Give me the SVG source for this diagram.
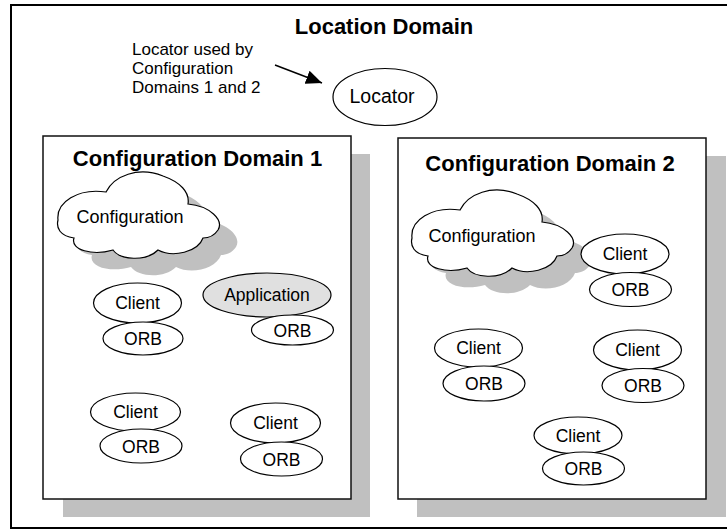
<svg xmlns="http://www.w3.org/2000/svg" width="727" height="529" viewBox="0 0 727 529">
<style>
.t{font-family:"Liberation Sans",Arial,sans-serif;font-size:17.5px;fill:#000;text-anchor:middle}
.ttl{font-family:"Liberation Sans",Arial,sans-serif;font-size:22px;font-weight:bold;fill:#000;text-anchor:middle}
.ann{font-family:"Liberation Sans",Arial,sans-serif;font-size:17px;fill:#000}
.el{fill:#fff;stroke:#000;stroke-width:1.2}
.app{fill:#e0e0e0;stroke:#000;stroke-width:1.2}
.sh{fill:#c0c0c0}
.box{fill:#fff;stroke:#111;stroke-width:1.5}
.cl{fill:#fff;stroke:#000;stroke-width:1.2}
</style>
<defs>
<path id="cloud" d="M0,48 C-2,30 20,16 48,20 C56,4 80,-6 105,4 C122,10 132,20 130,32 C152,34 166,48 160,58 C156,64 150,66 145,66 C140,80 115,86 100,78 C88,90 62,88 55,78 C35,84 12,78 16,66 C2,64 -2,56 0,48 Z"/>
<marker id="ah" markerUnits="userSpaceOnUse" markerWidth="17" markerHeight="14" refX="16" refY="7" orient="auto">
<path d="M0,0 L16,7 L0,14 Z" fill="#000"/>
</marker>
</defs>
<rect width="727" height="529" fill="#fff"/>
<g id="location-domain">
<rect x="11" y="5" width="730" height="523" fill="none" stroke="#000" stroke-width="2"/>
<text class="ttl" x="384" y="34">Location Domain</text>
<text class="ann" x="132" y="55">Locator used by</text>
<text class="ann" x="132" y="74">Configuration</text>
<text class="ann" x="132" y="93">Domains 1 and 2</text>
</g>
<g id="locator">
<ellipse class="el" cx="385" cy="97" rx="52" ry="28.5"/>
<text class="t" x="382" y="103" style="font-size:19.5px">Locator</text>
</g>
<g id="connectors">
<line x1="275" y1="65" x2="322" y2="83" stroke="#000" stroke-width="1.5" marker-end="url(#ah)"/>
</g>
<g id="config-domain-1">
<rect class="sh" x="63" y="154" width="307" height="363"/>
<rect class="box" x="43" y="136" width="308" height="363"/>
<text class="ttl" x="197.5" y="166">Configuration Domain 1</text>
</g>
<g id="config-domain-2">
<rect class="sh" x="417" y="156" width="309" height="361"/>
<rect class="box" x="398" y="138" width="308" height="361"/>
<text class="ttl" x="550" y="171">Configuration Domain 2</text>
</g>
<g id="configuration-1">
<use href="#cloud" class="sh" transform="translate(76,189)"/>
<use href="#cloud" class="cl" transform="translate(58,172)"/>
<text class="t" x="130" y="223" style="font-size:18px">Configuration</text>
</g>
<g id="configuration-2">
<use href="#cloud" class="sh" transform="translate(430,207)"/>
<use href="#cloud" class="cl" transform="translate(412,190)"/>
<text class="t" x="482" y="242" style="font-size:18px">Configuration</text>
</g>
<g id="client-1a">
<ellipse class="el" cx="137.5" cy="303" rx="44" ry="20"/>
<text class="t" x="137.5" y="309">Client</text>
<ellipse class="el" cx="143" cy="338.5" rx="40" ry="16.5"/>
<text class="t" x="143" y="345">ORB</text>
</g>
<g id="application-1">
<ellipse class="app" cx="267" cy="295" rx="64" ry="22"/>
<text class="t" x="267" y="301">Application</text>
<ellipse class="el" cx="292.5" cy="330" rx="41" ry="15"/>
<text class="t" x="292.5" y="336.5">ORB</text>
</g>
<g id="client-1b">
<ellipse class="el" cx="135.5" cy="412" rx="45" ry="19"/>
<text class="t" x="135.5" y="418">Client</text>
<ellipse class="el" cx="141" cy="446" rx="41" ry="17"/>
<text class="t" x="141" y="452.5">ORB</text>
</g>
<g id="client-1c">
<ellipse class="el" cx="275.5" cy="423" rx="45" ry="20"/>
<text class="t" x="275.5" y="429">Client</text>
<ellipse class="el" cx="281.5" cy="459" rx="41" ry="17"/>
<text class="t" x="281.5" y="465.5">ORB</text>
</g>
<g id="client-2a">
<ellipse class="el" cx="625" cy="254" rx="44" ry="20"/>
<text class="t" x="625" y="260">Client</text>
<ellipse class="el" cx="630.5" cy="289.5" rx="41" ry="17"/>
<text class="t" x="630.5" y="296">ORB</text>
</g>
<g id="client-2b">
<ellipse class="el" cx="478.5" cy="348" rx="44" ry="19"/>
<text class="t" x="478.5" y="354">Client</text>
<ellipse class="el" cx="484" cy="383.5" rx="41" ry="17.5"/>
<text class="t" x="484" y="390">ORB</text>
</g>
<g id="client-2c">
<ellipse class="el" cx="637.5" cy="350" rx="44" ry="20"/>
<text class="t" x="637.5" y="356">Client</text>
<ellipse class="el" cx="643" cy="385.5" rx="41" ry="17"/>
<text class="t" x="643" y="392">ORB</text>
</g>
<g id="client-2d">
<ellipse class="el" cx="578" cy="435.5" rx="44" ry="18.5"/>
<text class="t" x="578" y="441.5">Client</text>
<ellipse class="el" cx="583.5" cy="468.5" rx="41" ry="16.5"/>
<text class="t" x="583.5" y="475">ORB</text>
</g>
</svg>
